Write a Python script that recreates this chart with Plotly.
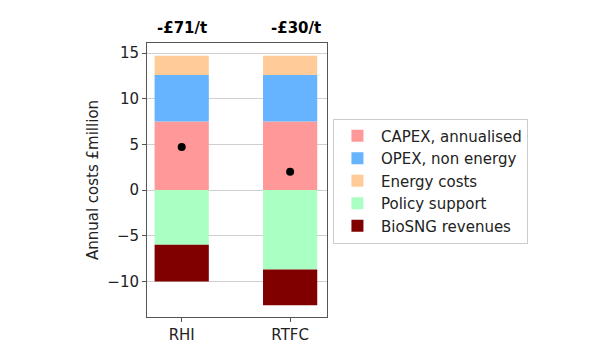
import plotly.graph_objects as go

schemes = ['RHI', 'RTFC']
capex = [7.5, 7.5]
opex = [5.1, 5.1]
energy = [2.1, 2.1]
policy = [-6.0, -8.7]
biosng = [-4.0, -3.9]
net = [4.7, 2.0]
cost_labels = ['-£71/t', '-£30/t']

series = [
    ('CAPEX, annualised', capex, '#ff9999'),
    ('OPEX, non energy', opex, '#66b3ff'),
    ('Energy costs', energy, '#ffcc99'),
    ('Policy support', policy, '#aaffc3'),
    ('BioSNG revenues', biosng, '#800000'),
]

fig = go.Figure()
for name, vals, col in series:
    fig.add_trace(go.Bar(x=schemes, y=vals, name=name, marker_color=col,
                         marker_line_width=0, width=0.5))

# net cost dots
fig.add_trace(go.Scatter(x=schemes, y=net, mode='markers', showlegend=False,
                         marker=dict(color='black', size=8)))

for s, lab, dx in zip(schemes, cost_labels, [0, 6]):
    fig.add_annotation(x=s, y=1, yref='paper', yanchor='bottom', yshift=4,
                       xshift=dx, text='<b>' + lab + '</b>', showarrow=False,
                       font=dict(size=15, color='black'))

axis_line = dict(showline=True, linecolor='#555555', linewidth=1, mirror=True,
                 ticks='outside', ticklen=4, tickcolor='#555555',
                 tickfont=dict(size=15, color='#222222'))

fig.update_layout(
    barmode='relative',
    width=593, height=354,
    margin=dict(l=139, r=274, t=35, b=45),
    plot_bgcolor='white', paper_bgcolor='white',
    font=dict(family='DejaVu Sans', size=15, color='#222222'),
    xaxis=dict(range=[-0.32, 1.34], showgrid=False, **axis_line),
    yaxis=dict(range=[-13.9, 16.1], tickvals=[-10, -5, 0, 5, 10, 15],
               ticktext=['\u221210', '\u22125', '0', '5', '10', '15'],
               showgrid=True, gridcolor='#d0d0d0', zeroline=False,
               title=dict(text='Annual costs £million', standoff=5,
                          font=dict(size=15)),
               **axis_line),
    legend=dict(x=1.033, y=0.724, xanchor='left', yanchor='top',
                bordercolor='#cccccc', borderwidth=1, itemwidth=37,
                font=dict(size=15), traceorder='normal'),
)

fig.write_html("out.html")
